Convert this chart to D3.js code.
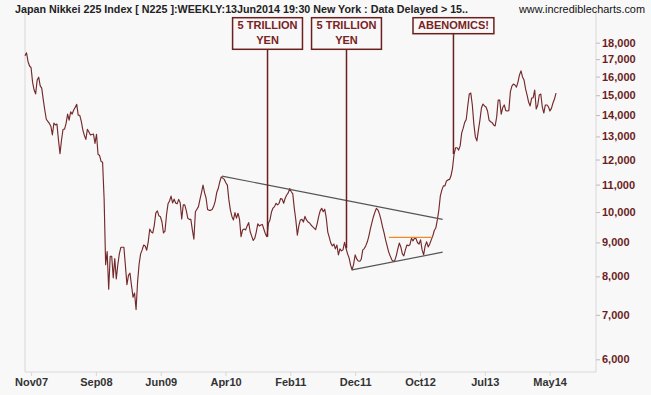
<!DOCTYPE html>
<html>
<head>
<meta charset="utf-8">
<script src="https://d3js.org/d3.v7.min.js"></script>
<style>
  body { margin: 0; background: #f8f8f8; }
  svg { display: block; font-family: "Liberation Sans", Arial, sans-serif; }
</style>
</head>
<body>
<svg id="chart"></svg>
<script>
// ---------------------- data ---------------------------
// weekly closes, Nikkei 225, from early Oct 2007 to 13 Jun 2014
const closes = [
  17200, 17380, 16850, 16600, 16500, 15680, 15270, 15070, 15810, 15970,
  15490, 15370, 14770, 14250, 13800, 13700, 13600, 13470, 13070, 13620,
  13530, 13570, 12840, 12250, 12840, 13330, 13330, 13600, 14050, 13760,
  14160, 14050, 14250, 14380, 14530, 13990, 13990, 13700, 13300, 13050,
  12870, 13330, 13200, 13070, 13090, 13110, 12690, 13100, 12220, 12170,
  11920, 11890, 10460, 8330, 8720, 7650, 8580, 8580, 7960, 8510,
  7930, 8330, 8650, 8850, 8850, 8850, 8300, 7770, 8030, 8090,
  7750, 7440, 7550, 7130, 7850, 8350, 8650, 8770, 8920, 8890,
  8760, 9020, 9430, 9330, 9300, 9560, 9970, 10040, 9870, 9840,
  9670, 9300, 9360, 9900, 10290, 10390, 10570, 10320, 10460, 10320,
  10290, 10450, 10330, 9760, 10250, 10250, 10050, 9790, 9750, 9750,
  9400, 9100, 10010, 10100, 10190, 10450, 10700, 10980, 10700, 10500,
  10090, 10060, 10060, 10090, 10200, 10380, 10700, 10850, 11100, 11300,
  11250, 11200, 11070, 10980, 10430, 10070, 9850, 9730, 9980, 9790,
  9960, 9750, 9180, 9400, 9430, 9400, 9530, 9640, 9340, 9200,
  9060, 9130, 9330, 9600, 9530, 9560, 9580, 9420, 9270, 9180,
  9620, 9730, 10000, 10140, 10190, 10310, 10250, 10310, 10480, 10460,
  10310, 10490, 10610, 10690, 10850, 10730, 10650, 10130, 9730, 9230,
  9540, 9730, 9750, 9660, 9850, 9730, 9660, 9630, 9560, 9510,
  9460, 9410, 9600, 9840, 10040, 10130, 10010, 10100, 9800, 9330,
  9160, 8980, 8890, 8950, 8800, 8920, 8620, 8800, 8740, 8770,
  9000, 8820, 8650, 8530, 8320, 8180, 8350, 8620, 8500, 8440,
  8430, 8490, 8770, 8810, 8900, 9020, 9200, 9430, 9640, 9840,
  10000, 10130, 10070, 9930, 9730, 9500, 9300, 9080, 8890, 8710,
  8590, 8480, 8430, 8450, 8590, 8790, 8980, 8860, 8650, 8590,
  8770, 8920, 8900, 8930, 9130, 9050, 9130, 9120, 8990, 8950,
  9080, 8770, 8620, 8890, 9020, 8860, 8950, 9080, 9200, 9380,
  9460, 9730, 10070, 10580, 10800, 10950, 10950, 11140, 11180, 11200,
  11340, 11650, 12230, 12500, 12500, 12400, 12580, 13150, 13380, 13650,
  13790, 14450, 15060, 15110, 14500, 13580, 12980, 12800, 13290, 13760,
  14350, 14550, 14450, 14400, 14200, 13760, 13680, 13640, 13530, 13480,
  13900, 14750, 14750, 14050, 14370, 14500, 14220, 14200, 14220, 15170,
  15480, 15590, 15540, 15430, 15700, 16090, 16320, 15980, 15810, 15330,
  15010, 14650, 14450, 14850, 14870, 15270, 14300, 14500, 15010, 15060,
  14400, 14100, 14500, 14500, 14420, 14200, 14330, 14600, 14800, 15110
];

// x ticks (position in weeks from the first bar) and their labels
const tickIdx = [4, 46.6, 89.2, 131.8, 174.4, 217, 259.6, 302.2, 344.8];
const tickLabels = ["Nov07", "Sep08", "Jun09", "Apr10", "Feb11", "Dec11", "Oct12", "Jul13", "May14"];

// y ticks on the right (log scale)
const yTicks = [6000, 7000, 8000, 9000, 10000, 11000, 12000, 13000, 14000, 15000, 16000, 17000, 18000];

// drawn trend lines (week index, value)
const upperTrend = [[129.5, 11330], [274.5, 9750]];
const lowerTrend = [[215, 8180], [274.5, 8700]];
const neckLine = [[239.2, 9160], [267.7, 9160]];

// callout boxes: text lines and the week they point to
const noteLines = [["5 TRILLION", "YEN"], ["5 TRILLION", "YEN"], ["ABENOMICS!"]];
const noteIdx = [159.4, 211.3, 281.6];

const titleText = "Japan Nikkei 225 Index [ N225 ]:WEEKLY:13Jun2014 19:30 New York : Data Delayed > 15..";
const siteText = "www.incrediblecharts.com";

// ---------------------- layout ---------------------------
const width = 651;
const height = 395;
const plotLeft = 25;
const plotRight = 596;
const plotTop = 10;
const plotBottom = 372;

const lineColor = "#74292b";
const noteColor = "#6b1f1f";
const axisGrey = "#d8d8d8";

const svg = d3.select("#chart")
  .attr("width", width)
  .attr("height", height);

svg.append("rect")
  .attr("width", width)
  .attr("height", height)
  .attr("fill", "#f8f8f8");

const x = d3.scaleLinear()
  .domain([0, closes.length - 1])
  .range([plotLeft, 556]);

const y = d3.scaleLog()
  .domain([5741, 20160])
  .range([plotBottom, plotTop]);

// plot frame (left)
svg.append("line")
  .attr("x1", plotLeft).attr("x2", plotLeft)
  .attr("y1", plotTop).attr("y2", plotBottom)
  .attr("stroke", axisGrey);

// bottom axis
const xAxis = svg.append("g")
  .attr("transform", "translate(0," + plotBottom + ")")
  .call(d3.axisBottom(x)
    .tickValues(tickIdx)
    .tickFormat((d, i) => tickLabels[i])
    .tickSize(4)
    .tickSizeOuter(0)
    .tickPadding(2));
xAxis.select(".domain")
  .attr("d", "M" + plotLeft + ",0H" + plotRight)
  .attr("stroke", axisGrey);
xAxis.selectAll(".tick line").attr("stroke", axisGrey);
xAxis.selectAll(".tick text")
  .attr("fill", "#333")
  .attr("font-size", "11px")
  .attr("font-weight", "bold")
  .attr("font-family", "'Liberation Sans', Arial, sans-serif");

// right axis
const yAxis = svg.append("g")
  .attr("transform", "translate(" + plotRight + ",0)")
  .call(d3.axisRight(y)
    .tickValues(yTicks)
    .tickFormat(d3.format(","))
    .tickSize(4)
    .tickSizeOuter(0)
    .tickPadding(2));
yAxis.select(".domain")
  .attr("d", "M0," + plotTop + "V" + plotBottom)
  .attr("stroke", axisGrey);
yAxis.selectAll(".tick line").attr("stroke", "#bbb");
yAxis.selectAll(".tick text")
  .attr("fill", "#6b1d1d")
  .attr("font-size", "11px")
  .attr("font-weight", "bold")
  .attr("font-family", "'Liberation Sans', Arial, sans-serif");

// price line
const priceLine = d3.line()
  .x((d, i) => x(i))
  .y(d => y(d));

svg.append("path")
  .datum(closes)
  .attr("fill", "none")
  .attr("stroke", lineColor)
  .attr("stroke-width", 1.15)
  .attr("stroke-linejoin", "round")
  .attr("d", priceLine);

// trend lines
const segLine = d3.line()
  .x(d => x(d[0]))
  .y(d => y(d[1]));

svg.append("path").datum(upperTrend)
  .attr("d", segLine).attr("stroke", "#555").attr("stroke-width", 1.2).attr("fill", "none");
svg.append("path").datum(lowerTrend)
  .attr("d", segLine).attr("stroke", "#555").attr("stroke-width", 1.2).attr("fill", "none");
svg.append("path").datum(neckLine)
  .attr("d", segLine).attr("stroke", "#f08a24").attr("stroke-width", 1.3).attr("fill", "none");

// callouts
const boxTop = 17.7;
const lineGap = 14.5;
noteLines.forEach(function(lines, k) {
  const cx = x(noteIdx[k]);
  const endY = y(closes[Math.round(noteIdx[k])]);
  const boxH = 16 * lines.length - (lines.length - 1) * 0.4;
  const g = svg.append("g");
  const rect = g.append("rect");
  const texts = lines.map(function(t, j) {
    return g.append("text")
      .attr("x", cx)
      .attr("y", boxTop + 11.6 + j * lineGap)
      .attr("text-anchor", "middle")
      .attr("font-size", "11px")
      .attr("font-weight", "bold")
      .attr("fill", "#7a2222")
      .text(t);
  });
  const w = d3.max(texts, t => t.node().getComputedTextLength()) + 10;
  rect.attr("x", cx - w / 2)
    .attr("y", boxTop)
    .attr("width", w)
    .attr("height", boxH)
    .attr("fill", "#f8f8f8")
    .attr("stroke", noteColor)
    .attr("stroke-width", 1.5);
  svg.append("line")
    .attr("x1", cx).attr("x2", cx)
    .attr("y1", boxTop + boxH).attr("y2", endY)
    .attr("stroke", noteColor)
    .attr("stroke-width", 1.5);
});

// header texts
svg.append("text")
  .attr("x", 15)
  .attr("y", 12.5)
  .attr("font-size", "11px")
  .attr("font-weight", "bold")
  .attr("fill", "#222")
  .attr("textLength", 453)
  .attr("lengthAdjust", "spacingAndGlyphs")
  .text(titleText);

svg.append("text")
  .attr("x", 645)
  .attr("y", 12.5)
  .attr("text-anchor", "end")
  .attr("font-size", "11px")
  .attr("fill", "#111")
  .attr("textLength", 126)
  .attr("lengthAdjust", "spacingAndGlyphs")
  .text(siteText);
</script>
</body>
</html>
